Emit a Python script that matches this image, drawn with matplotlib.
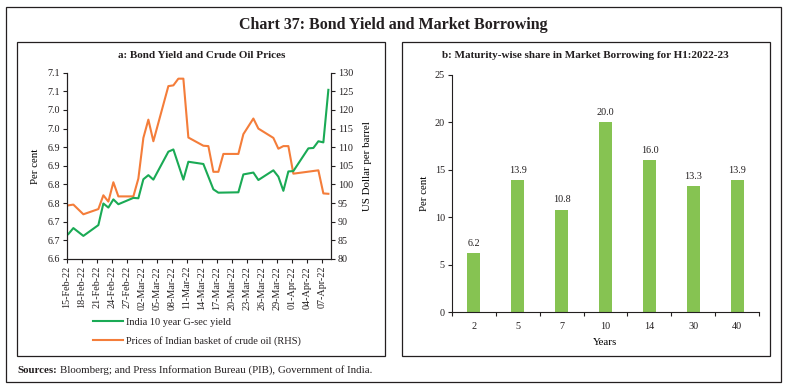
import pandas as pd
import matplotlib
matplotlib.use('Agg')
import matplotlib.pyplot as plt
from matplotlib.patches import Rectangle

# panel a: daily series
yield_dates = ['2022-02-15', '2022-02-16', '2022-02-18', '2022-02-21', '2022-02-22',
               '2022-02-23', '2022-02-24', '2022-02-25', '2022-02-28', '2022-03-01',
               '2022-03-02', '2022-03-03', '2022-03-04', '2022-03-07', '2022-03-08',
               '2022-03-10', '2022-03-11', '2022-03-14', '2022-03-16', '2022-03-17',
               '2022-03-21', '2022-03-22', '2022-03-24', '2022-03-25', '2022-03-28',
               '2022-03-29', '2022-03-30', '2022-03-31', '2022-04-01', '2022-04-04',
               '2022-04-05', '2022-04-06', '2022-04-07', '2022-04-08']
gsec_yield = [6.667, 6.683, 6.662, 6.691, 6.749, 6.738, 6.760, 6.747, 6.764, 6.763,
              6.814, 6.825, 6.813, 6.888, 6.894, 6.813, 6.861, 6.855, 6.787, 6.778,
              6.779, 6.827, 6.832, 6.812, 6.838, 6.821, 6.783, 6.835, 6.836, 6.897,
              6.898, 6.916, 6.913, 7.054]

crude_dates = ['2022-02-15', '2022-02-16', '2022-02-18', '2022-02-21', '2022-02-22',
               '2022-02-23', '2022-02-24', '2022-02-25', '2022-02-28', '2022-03-01',
               '2022-03-02', '2022-03-03', '2022-03-04', '2022-03-07', '2022-03-08',
               '2022-03-09', '2022-03-10', '2022-03-11', '2022-03-14', '2022-03-15',
               '2022-03-16', '2022-03-17', '2022-03-18', '2022-03-21', '2022-03-22',
               '2022-03-24', '2022-03-25', '2022-03-28', '2022-03-29', '2022-03-30',
               '2022-03-31', '2022-04-01', '2022-04-06', '2022-04-07', '2022-04-08']
crude_price = [94.4, 94.6, 92.0, 93.4, 97.1, 95.4, 100.6, 96.8, 96.8, 101.6,
               112.5, 117.4, 111.6, 126.4, 126.6, 128.4, 128.4, 112.6, 110.4, 110.3,
               103.4, 103.4, 108.2, 108.2, 113.5, 117.7, 115.0, 112.5, 109.6, 110.3,
               110.3, 102.9, 103.8, 97.6, 97.5]

date_ticks = ['15-Feb-22', '18-Feb-22', '21-Feb-22', '24-Feb-22', '27-Feb-22', '02-Mar-22',
              '05-Mar-22', '08-Mar-22', '11-Mar-22', '14-Mar-22', '17-Mar-22', '20-Mar-22',
              '23-Mar-22', '26-Mar-22', '29-Mar-22', '01-Apr-22', '04-Apr-22', '07-Apr-22']
left_ticks = [6.60, 6.65, 6.70, 6.75, 6.80, 6.85, 6.90, 6.95, 7.00, 7.05, 7.10]
left_labels = ['6.6', '6.7', '6.7', '6.8', '6.8', '6.9', '6.9', '7.0', '7.0', '7.1', '7.1']
right_ticks = [80, 85, 90, 95, 100, 105, 110, 115, 120, 125, 130]

# panel b: maturity-wise share
maturity = ['2', '5', '7', '10', '14', '30', '40']
share = [6.2, 13.9, 10.8, 20.0, 16.0, 13.3, 13.9]

GREEN = '#1aaa55'
ORANGE = '#f47d3a'
BAR = '#86c352'
INK = '#231f20'

plt.rcParams['font.family'] = ['Liberation Serif', 'DejaVu Serif']
plt.rcParams['text.color'] = INK
plt.rcParams['axes.edgecolor'] = INK
plt.rcParams['xtick.color'] = INK
plt.rcParams['ytick.color'] = INK
plt.rcParams['axes.linewidth'] = 0.8

W, H = 787, 389
fig = plt.figure(figsize=(W / 100, H / 100), dpi=100)


def fx(px):
    return px / W


def fy(py):
    return 1 - py / H


def box(x0, y0, x1, y1):
    fig.patches.append(Rectangle((fx(x0), fy(y1)), fx(x1) - fx(x0), fy(y0) - fy(y1),
                                 transform=fig.transFigure, fill=False,
                                 edgecolor=INK, linewidth=0.9))


# frames
box(6.3, 7.3, 780.5, 381.7)
box(17.3, 41.7, 385, 355.7)
box(401.7, 41.7, 769.5, 355.7)

fig.text(fx(393), fy(25), 'Chart 37: Bond Yield and Market Borrowing',
         ha='center', va='center', fontsize=11.5, fontweight='bold')
fig.text(fx(201.5), fy(55), 'a: Bond Yield and Crude Oil Prices',
         ha='center', va='center', fontsize=8, fontweight='bold')
fig.text(fx(585), fy(55), 'b: Maturity-wise share in Market Borrowing for H1:2022-23',
         ha='center', va='center', fontsize=8, fontweight='bold')

# ---- panel a ----
ax = fig.add_axes([fx(66.7), fy(259), fx(331) - fx(66.7), fy(72.7) - fy(259)])
ax2 = ax.twinx()
offset = pd.Timedelta(hours=8)
ly = pd.to_datetime(yield_dates) + offset
lc = pd.to_datetime(crude_dates) + offset
g, = ax.plot(ly, gsec_yield, color=GREEN, lw=1.5, label='India 10 year G-sec yield')
o, = ax2.plot(lc, crude_price, color=ORANGE, lw=1.5,
              label='Prices of Indian basket of crude oil (RHS)')
ax.set_zorder(ax2.get_zorder() + 1)
ax.patch.set_visible(False)

start = pd.Timestamp('2022-02-15')
ax.set_xlim(start, start + pd.Timedelta(days=52.86))
ax.set_ylim(6.6, 7.1)
ax2.set_ylim(80, 130)
ax.set_yticks(left_ticks)
ax.set_yticklabels(left_labels)
ax2.set_yticks(right_ticks)
ax.set_xticks(pd.to_datetime(date_ticks, format='%d-%b-%y'))
ax.set_xticklabels(date_ticks, rotation=90)
for a in (ax, ax2):
    a.spines['top'].set_visible(False)
    a.tick_params(labelsize=7.3, length=3, width=0.8, pad=2)
ax.set_ylabel('Per cent', fontsize=7.8, labelpad=5)
ax2.set_ylabel('US Dollar per barrel', fontsize=7.8, labelpad=7)

fig.legend(handles=[g, o], loc='upper left', bbox_to_anchor=(fx(93), fy(317.5)),
           frameon=False, fontsize=7.5, handlelength=2.9, handletextpad=0.3,
           labelspacing=0.85, borderpad=0, borderaxespad=0)

# ---- panel b ----
bx = fig.add_axes([fx(451.7), fy(312.3), fx(759.3) - fx(451.7), fy(75) - fy(312.3)])
pos = list(range(len(maturity)))
bars = bx.bar(pos, share, width=0.3, color=BAR)
bx.bar_label(bars, labels=[f'{v:.1f}' for v in share], padding=4, fontsize=7.3)
bx.set_xlim(-0.5, len(maturity) - 0.5)
bx.set_ylim(0, 25)
bx.set_yticks([0, 5, 10, 15, 20, 25])
bx.set_xticks(pos)
bx.set_xticklabels(maturity)
bx.set_xticks([p - 0.5 for p in range(len(maturity) + 1)], minor=True)
bx.tick_params(axis='x', which='major', length=0, pad=7)
bx.tick_params(axis='x', which='minor', length=3, width=0.8)
bx.tick_params(axis='y', length=3, width=0.8, pad=2)
bx.tick_params(labelsize=7.3)
bx.spines['top'].set_visible(False)
bx.spines['right'].set_visible(False)
bx.set_xlabel('Years', fontsize=7.8, labelpad=5)
bx.set_ylabel('Per cent', fontsize=7.8, labelpad=4)

# source note
r = fig.canvas.get_renderer()
t = fig.text(fx(17.3), fy(373), 'Sources:', fontsize=7.8, fontweight='bold',
             va='baseline', ha='left')
bb = t.get_window_extent(renderer=r)
fig.text(fx(bb.x1 + 3), fy(373), 'Bloomberg; and Press Information Bureau (PIB), Government of India.',
         fontsize=7.8, va='baseline', ha='left')

fig.savefig('out.png', dpi=100)
